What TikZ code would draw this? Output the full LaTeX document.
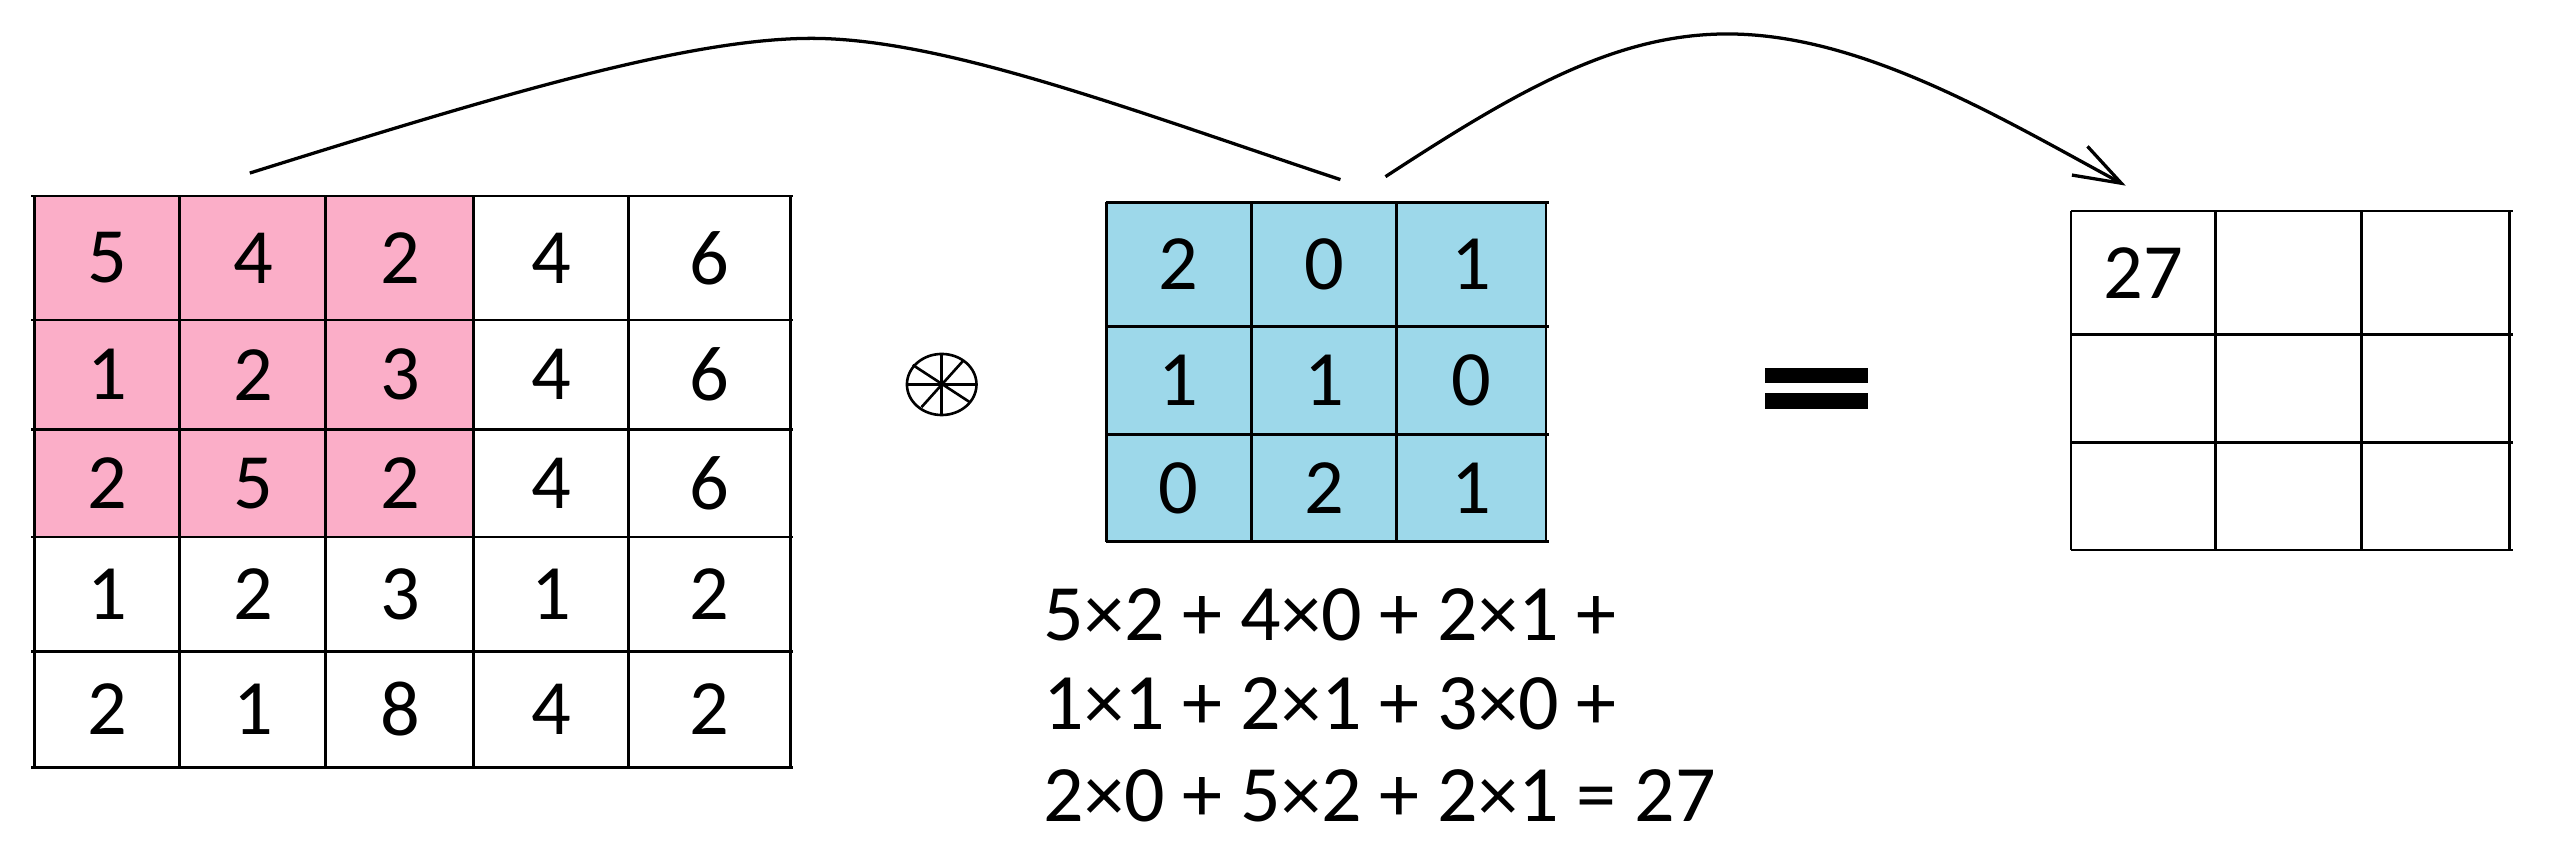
\documentclass[tikz,border=0pt]{standalone}
\usepackage{fontspec}
\setmainfont{Carlito}
\usetikzlibrary{arrows.meta}
\definecolor{pinkc}{HTML}{FBAEC8}
\definecolor{bluec}{HTML}{9DD8EA}
\begin{document}
\begin{tikzpicture}[x=0.5pt,y=-0.5pt,
  gl/.style={line width=0.8pt},
  num/.style={font=\fontsize{24}{24}\selectfont, inner sep=0pt},
  formula/.style={font=\fontsize{24.5}{24.5}\selectfont, inner sep=0pt, anchor=base west},
  curve/.style={line width=1pt},
  oper/.style={line width=0.8pt}]
\useasboundingbox (0,0) rectangle (1568,529);

% ---------- left 5x5 input grid ----------
\fill[pinkc] (21,120) rectangle (290,329);
\foreach \y in {120,196,263,329,399,470} \draw[gl] (19,\y) -- (486,\y);
\foreach \x in {21,110,199.5,290,385,484} \draw[gl] (\x,120) -- (\x,470);
\foreach \r/\yc/\vals in {1/158/{5,4,2,4,6},2/229.5/{1,2,3,4,6},3/296/{2,5,2,4,6},4/364/{1,2,3,1,2},5/434.5/{2,1,8,4,2}}{
  \foreach \v [count=\c] in \vals {
    \pgfmathsetmacro\xc{{65.5,155,245,337.5,434.5}[\c-1]}
    \node[num] (in-\r-\c) at (\xc,\yc) {\v};
  }
}

% ---------- convolution operator ----------
\draw[oper] (576.8,235.5) ellipse [x radius=21.3, y radius=18.7];
\draw[oper] (555.3,235.5) -- (598.5,235.5);
\draw[oper] (576.7,216.8) -- (576.7,254.2);
\draw[oper] (559,223.5) -- (594.4,246.6);
\draw[oper] (590,220.9) -- (564.4,249.4);

% ---------- kernel grid ----------
\fill[bluec] (677.6,124) rectangle (947,331.7);
\foreach \y in {124,200,266,331.7} \draw[gl] (677.6,\y) -- (949,\y);
\foreach \x in {677.6,766.7,855.5,947} \draw[gl] (\x,124) -- (\x,331.7);
\foreach \r/\yc/\vals in {1/162/{2,0,1},2/233/{1,1,0},3/299/{0,2,1}}{
  \foreach \v [count=\c] in \vals {
    \pgfmathsetmacro\xc{{722,811,901}[\c-1]}
    \node[num] (k-\r-\c) at (\xc,\yc) {\v};
  }
}

% ---------- equals sign ----------
\fill (1081,225.6) rectangle (1144,234.8);
\fill (1081,240.9) rectangle (1144,250.5);

% ---------- output grid ----------
\foreach \y in {129.2,204.7,271.1,336.8} \draw[gl] (1268.5,\y) -- (1539,\y);
\foreach \x in {1268.5,1356.8,1446.5,1537.2} \draw[gl] (\x,129.2) -- (\x,336.8);
\node[num] (out-1-1) at (1313,167) {27};

% ---------- formula ----------
\node[formula] (f1) at (639,392) {5×2 + 4×0 + 2×1 +};
\node[formula] (f2) at (639,447) {1×1 + 2×1 + 3×0 +};
\node[formula] (f3) at (639,503) {2×0 + 5×2 + 2×1 = 27};

% ---------- curved connectors ----------
\coordinate (s1) at (153,106);
\coordinate (e1) at (821,110);
\coordinate (s2) at (848.6,108.2);
\coordinate (e2) at (1302,113.7);
\draw[curve] (s1) .. controls (300,60) and (420,23.5) .. (497,23.5)
                  .. controls (580,23.5) and (700,70) .. (e1);
\draw[curve, -{Straight Barb[length=14.5pt,width=10pt]}]
  (s2) .. controls (930,55) and (990,20.8) .. (1058,20.8)
       .. controls (1140,20.8) and (1225,72) .. (e2);
\end{tikzpicture}
\end{document}
